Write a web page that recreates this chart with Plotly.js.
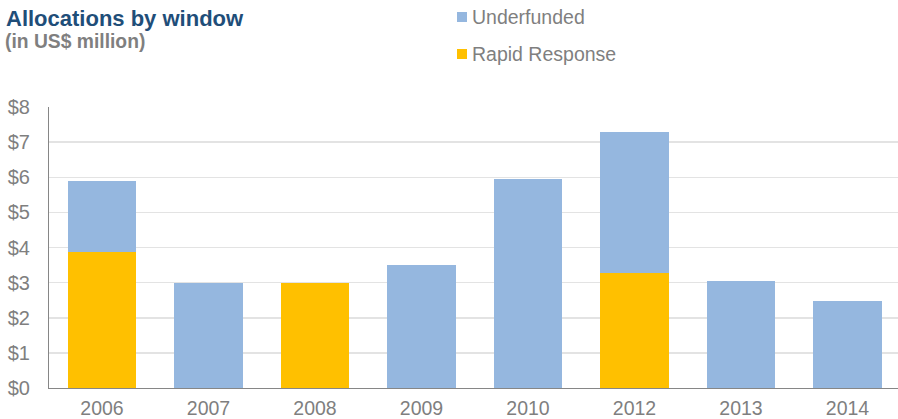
<!DOCTYPE html>
<html>
<head>
<meta charset="utf-8">
<script src="https://cdn.plot.ly/plotly-3.0.1.min.js"></script>
<style>html,body{margin:0;padding:0;background:#fff;}#chart{width:898px;height:419px;}</style>
</head>
<body>
<div id="chart"></div>
<script>
const years = ['2006', '2007', '2008', '2009', '2010', '2012', '2013', '2014'];
const rapidResponse = [3.88, 0, 2.99, 0, 0, 3.28, 0, 0];
const underfunded = [2.0, 2.99, 0, 3.51, 5.96, 4.0, 3.06, 2.49];
const yTickVals = [0, 1, 2, 3, 4, 5, 6, 7, 8];
const yTickText = ['$0', '$1', '$2', '$3', '$4', '$5', '$6', '$7', '$8'];
const seriesNames = ['Underfunded', 'Rapid Response'];
const seriesColors = ['#95B7DF', '#FFC000'];

const data = [
  {type: 'bar', name: seriesNames[1], x: years, y: rapidResponse,
   marker: {color: seriesColors[1]}, showlegend: false},
  {type: 'bar', name: seriesNames[0], x: years, y: underfunded,
   marker: {color: seriesColors[0]}, showlegend: false}
];

// manual legend (pixel layout converted to paper coords)
const L = 49, PW = 849, B = 388, PH = 281;
const px = v => (v - L) / PW;
const py = v => (B - v) / PH;
const legendRows = [17, 54];
const shapes = [];
const annotations = [];
seriesNames.forEach((nm, i) => {
  const cy = legendRows[i];
  shapes.push({type: 'rect', xref: 'paper', yref: 'paper', layer: 'above',
    x0: px(457), x1: px(467), y0: py(cy + 5), y1: py(cy - 5),
    fillcolor: seriesColors[i], line: {width: 0}});
  annotations.push({text: nm, xref: 'paper', yref: 'paper', x: px(470), y: py(cy),
    xanchor: 'left', yanchor: 'middle', showarrow: false,
    font: {size: 19.5, color: '#7F7F7F', family: 'Liberation Sans, Arial, sans-serif'}});
});
annotations.push(
  {text: '<b>Allocations by window</b>', xref: 'paper', yref: 'paper',
   x: px(4), y: py(19), xanchor: 'left', yanchor: 'middle', showarrow: false,
   font: {size: 22, color: '#1F4E79', family: 'Liberation Sans, Arial, sans-serif'}},
  {text: '<b>(in US$ million)</b>', xref: 'paper', yref: 'paper',
   x: px(2.5), y: py(41.5), xanchor: 'left', yanchor: 'middle', showarrow: false,
   font: {size: 19.3, color: '#7F7F7F', family: 'Liberation Sans, Arial, sans-serif'}}
);

const layout = {
  width: 898, height: 419,
  margin: {l: 49, r: 0, t: 107, b: 31},
  barmode: 'stack',
  bargap: 0.36,
  paper_bgcolor: '#fff', plot_bgcolor: '#fff',
  font: {family: 'Liberation Sans, Arial, sans-serif', color: '#7F7F7F'},
  showlegend: false,
  xaxis: {type: 'category', range: [-0.4977, 7.474], showgrid: false,
          showline: true, linecolor: '#868686', linewidth: 1, ticks: '',
          ticklabelstandoff: 3,
          tickfont: {size: 19.5, color: '#7F7F7F'}, fixedrange: true},
  yaxis: {range: [0, 8], tickvals: yTickVals, ticktext: yTickText,
          showgrid: true, gridcolor: '#E3E3E3', gridwidth: 1.5,
          showline: true, linecolor: '#868686', linewidth: 1, ticks: '',
          zeroline: false, ticklabelstandoff: 14,
          tickfont: {size: 20, color: '#7F7F7F'}, fixedrange: true},
  shapes: shapes,
  annotations: annotations
};

Plotly.newPlot('chart', data, layout, {displayModeBar: false, staticPlot: true});
</script>
</body>
</html>
